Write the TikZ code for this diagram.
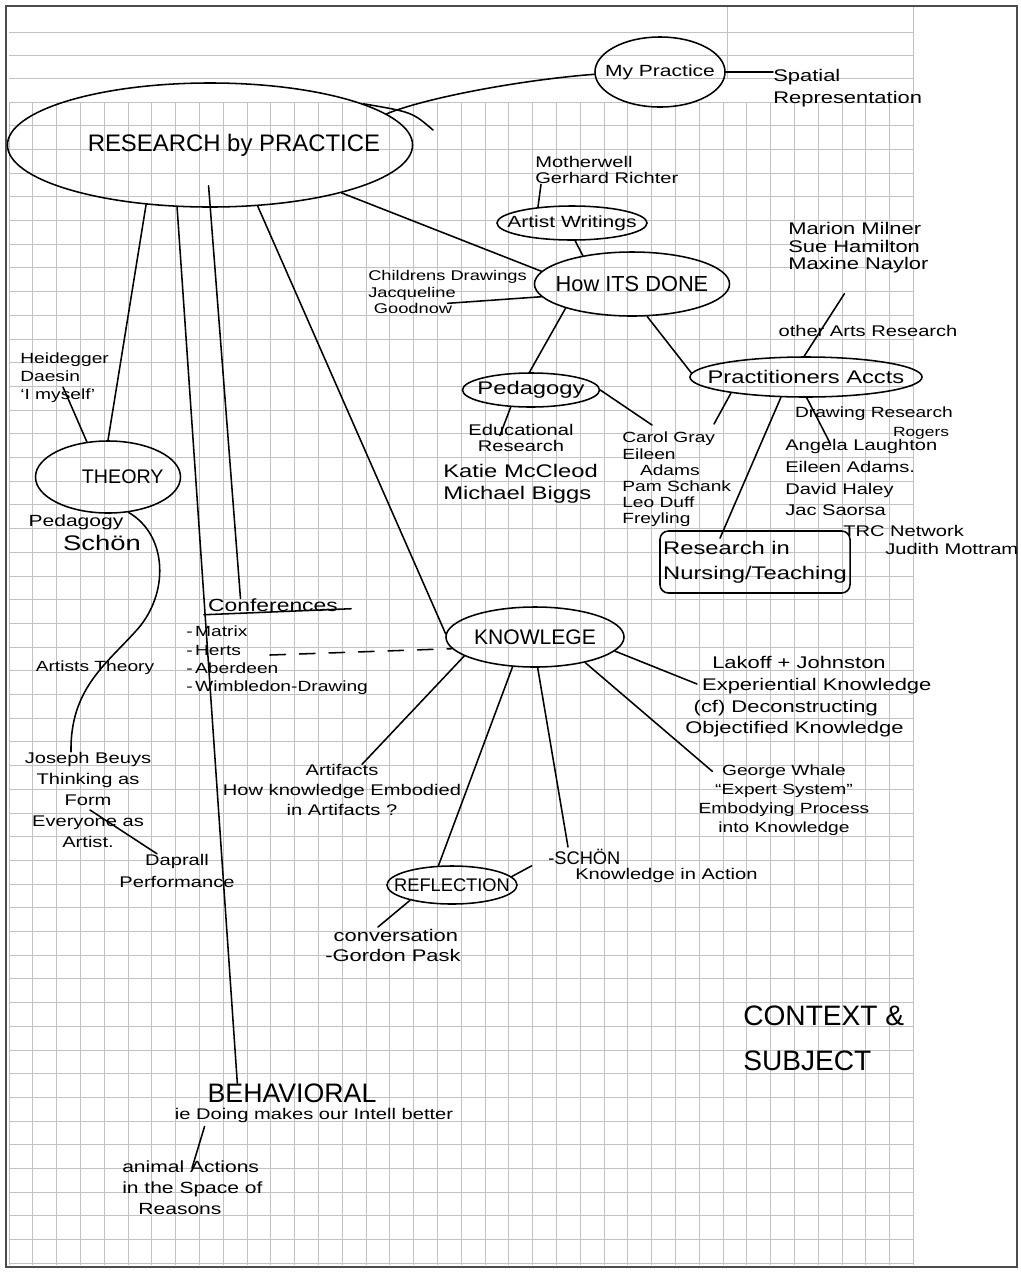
\documentclass[tikz,border=0pt]{standalone}
\usepackage{fontspec}
\setmainfont{Liberation Sans}[FakeStretch=1.3]
\newfontfamily\capsfont{Liberation Sans}
\usetikzlibrary{shapes.geometric, calc, positioning}
\newcommand{\ovaltext}[1]{\makebox[0pt]{#1}}
\newcommand{\fsz}[2]{\fontsize{#1}{#2}\selectfont}

\begin{document}
\begin{tikzpicture}[
    x=0.025cm, y=-0.025cm,
    oval/.style={draw, ellipse, line width=1.1pt, inner sep=0pt},
    note/.style={inner sep=0pt, align=left},
    notec/.style={inner sep=0pt, align=center},
    link/.style={line width=1.1pt, line cap=round},
    gridline/.style={black!24, line width=0.6pt}
]
\useasboundingbox (0,0) rectangle (1021,1272);
\fill[white] (0,0) rectangle (1021,1272);

% squared paper
\foreach \k in {0,...,38} \draw[gridline] ({9+23.8*\k},102) -- ({9+23.8*\k},1265);
\foreach \k in {0,...,49} \draw[gridline] (9,{102+23.7*\k}) -- (913,{102+23.7*\k});
\foreach \yy in {32,55,78} \draw[gridline] (9,\yy) -- (913,\yy);
\draw[gridline] (727,7) -- (727,78);
\draw[gridline] (913,7) -- (913,1265);
\draw[line width=1.3pt, black!70] (6,6) rectangle (1017,1267);

% main ovals
\node[oval, minimum width=10.125cm, minimum height=3.1cm, font={\capsfont\fsz{17}{20}}] (research) at (210,145) {\ovaltext{\hspace*{2em}RESEARCH by PRACTICE}};
\node[oval, minimum width=3.25cm, minimum height=1.75cm, font=\fsz{11.5}{13}] (mypractice) at (660,72) {\ovaltext{My Practice}};
\node[note, anchor=west, font=\fsz{12}{16}] (spatial) at (773,88) {Spatial\\Representation};

% how it's done
\node[note, anchor=west, font=\fsz{11}{12}] (mother) at (535,170) {Motherwell\\Gerhard Richter};
\node[oval, minimum width=3.75cm, minimum height=0.85cm, font=\fsz{11.5}{13}] (writings) at (572,223) {\ovaltext{Artist Writings}};
\node[oval, minimum width=4.875cm, minimum height=1.6cm, font={\capsfont\fsz{15.5}{18}}] (howdone) at (632,284) {\ovaltext{How ITS DONE}};
\node[note, anchor=west, font=\fsz{10}{12}] (children) at (368,292) {Childrens Drawings\\Jacqueline\\\hspace*{0.4em}Goodnow};
\node[note, anchor=west, font=\fsz{12}{12.5}] (marion) at (788,248) {Marion Milner\\Sue Hamilton\\Maxine Naylor};
\node[notec, font=\fsz{11}{13}] (otherarts) at (868,331) {other Arts Research};
\node[oval, minimum width=5.8cm, minimum height=1cm, font=\fsz{13}{15}] (pract) at (806,377) {\ovaltext{Practitioners Accts}};
\node[oval, minimum width=3.425cm, minimum height=0.85cm, font=\fsz{13}{15}] (pedagogy) at (531,390) {\ovaltext{Pedagogy}};
\node[notec, font=\fsz{11}{12}] (educ) at (521,438) {Educational\\Research};
\node[note, anchor=west, font=\fsz{13}{15.5}] (katie) at (443,484) {Katie McCleod\\Michael Biggs};
\node[note, anchor=north west, font=\fsz{10.5}{11.5}] (carol) at (622,432) {Carol Gray\\Eileen\\\hspace*{1.2em}Adams\\Pam Schank\\Leo Duff\\Freyling};
\node[notec, font=\fsz{10.5}{12}] (drawres) at (874,414) {Drawing Research};
\node[notec, font=\fsz{9.5}{11}] (rogers) at (921,433) {Rogers};
\node[note, anchor=north west, font=\fsz{11}{15.5}] (angela) at (785,439) {Angela Laughton\\Eileen Adams.\\David Haley\\Jac Saorsa};
\node[note, anchor=west, font=\fsz{11}{13}] (trc) at (843,531) {TRC Network};
\node[note, anchor=west, font=\fsz{11}{13}] (mottram) at (885,549) {Judith Mottram};
\node[draw, rounded corners=6pt, line width=1.1pt, minimum width=4.75cm, minimum height=1.55cm, align=left, inner sep=2pt, font=\fsz{13}{17.5}] (nursing) at (755,562) {Research in\\Nursing/Teaching};

% theory
\node[oval, minimum width=3.625cm, minimum height=1.8cm, font={\capsfont\fsz{14}{16}}] (theory) at (108,477) {\ovaltext{\hspace*{1.5em}THEORY}};
\node[note, anchor=west, font=\fsz{10.5}{12.8}] (heid) at (20,378) {Heidegger\\Daesin\\`I myself'};
\node[notec, font=\fsz{11.5}{13}] (pedleft) at (76,522) {Pedagogy};
\node[notec, font=\fsz{15}{17}] (schonleft) at (102,543) {Schön};
\node[notec, font=\fsz{10.5}{12}] (arttheory) at (95,668) {Artists Theory};
\node[notec, font=\fsz{11}{15}] (joseph) at (88,800) {Joseph Beuys\\Thinking as\\Form\\Everyone as\\Artist.};
\node[notec, font=\fsz{11}{16}] (daprall) at (177,871) {Daprall\\Performance};

% conferences
\node[notec, font=\fsz{12.5}{14}] (conf) at (273,605) {Conferences};
\node[note, anchor=north west, font=\fsz{10.5}{13}] (conflist) at (186,626) {-\,Matrix\\-\,Herts\\-\,Aberdeen\\-\,Wimbledon-Drawing};

% knowledge
\node[oval, minimum width=4.45cm, minimum height=1.5cm, font={\capsfont\fsz{15}{17}}] (knowledge) at (535,637) {\ovaltext{KNOWLEGE}};
\node[notec, font=\fsz{11}{14}] (artifacts) at (342,790) {Artifacts\\How knowledge Embodied\\in Artifacts ?};
\node[note, anchor=north west, font=\fsz{12}{15.5}] (lakoff) at (685,656) {\hspace*{1.6em}Lakoff + Johnston\\\hspace*{1em}Experiential Knowledge\\\hspace*{0.5em}(cf) Deconstructing\\Objectified Knowledge};
\node[notec, font=\fsz{10.5}{13.5}] (george) at (784,800) {George Whale\\``Expert System''\\Embodying Process\\into Knowledge};
\node[note, anchor=west, font={\capsfont\fsz{13}{15}}] (schon) at (548,857) {-SCHÖN};
\node[note, anchor=west, font=\fsz{11}{13}] (action) at (575,875) {Knowledge in Action};
\node[oval, minimum width=3.25cm, minimum height=0.95cm, font={\capsfont\fsz{13}{15}}] (reflection) at (452,885) {\ovaltext{REFLECTION}};
\node[note, anchor=north west, font=\fsz{12}{14}] (convo) at (325,929) {\hspace*{0.5em}conversation\\-Gordon Pask};

% behavioral
\node[notec, font={\capsfont\fsz{19}{21}}] (behavioral) at (292,1093) {BEHAVIORAL};
\node[notec, font=\fsz{11}{13}] (doing) at (314,1115) {ie Doing makes our Intell better};
\node[note, anchor=north west, font=\fsz{11.5}{15}] (animal) at (122,1160) {animal Actions\\in the Space of\\\hspace*{1em}Reasons};

\node[note, anchor=west, font={\capsfont\fsz{20}{32}}] (context) at (743,1038) {CONTEXT \&\\SUBJECT};

% links
\draw[link] (mypractice.182) .. controls (520,80) and (425,98) .. (research.10);
\draw[link] (research.15) .. controls (412,112) .. (433,130);
\draw[link] (mypractice.east) -- (mypractice.east -| spatial.west);
\draw[link] (research.223) -- (theory.north);
\draw[link] (research.242) -- ($(behavioral.north west)+(30,0)$);
\draw[link] ($(research.center)!0.65!(research.268)$) -- ($(conf.north west)!0.25!(conf.north east)$);
\draw[link] (research.308) -- (knowledge.178);
\draw[link] (research.340) -- (howdone.172);

\draw[link] ($(mother.south west)+(6,0)$) -- (writings.155);
\draw[link] (writings.280) -- (howdone.150);
\draw[link] (howdone.188) -- ($(children.south)+(0,-11)$);
\draw[link] (howdone.200) -- (pedagogy.95);
\draw[link] (howdone.295) -- (pract.178);
\draw[link] ($(marion.south)+(-14,20)$) -- (pract.95);
\draw[link] (pedagogy.east) -- ($(carol.north west)+(30,-7)$);
\draw[link] (pedagogy.220) -- ($(educ.north west)!0.3!(educ.north east)+(0,12)$);
\draw[link] (pract.192) -- ($(carol.north west)+(92,-8)$);
\draw[link] (pract.219) -- ($(nursing.north)+(-35,8)$);
\draw[link] (pract.272) -- ($(angela.north west)+(45,4)$);

\draw[link] ($(heid.west)+(43,9)$) -- (theory.121);
\draw[link] (theory.300) .. controls (168,535) and (170,595) .. (135,632) .. controls (105,665) and (70,690) .. ($(joseph.north)+(-17,0)$);
\draw[link] ($(joseph.center)+(2,10)$) -- ($(daprall.north)+(-20,0)$);

\draw[link] ($(conf.south west)+(-4,3)$) -- ($(conf.south east)+(13,-3)$);
\draw[link, dash pattern=on 11pt off 10pt] ($(conflist.north west)+(84,29)$) -- (knowledge.188);

\draw[link] (knowledge.195) -- ($(artifacts.north)+(20,0)$);
\draw[link] (knowledge.233) -- (reflection.125);
\draw[link] (knowledge.275) -- ($(schon.north west)+(20,-2)$);
\draw[link] (knowledge.333) -- ($(george.north west)+(14,7)$);
\draw[link] (knowledge.350) -- ($(lakoff.north west)+(12,28)$);
\draw[link] (reflection.8) -- ($(reflection.8)!0.55!(schon.west)$);
\draw[link] (reflection.200) -- ($(convo.north west)+(53,-2)$);
\draw[link] ($(doing.south west)+(30,4)$) -- ($(animal.north west)+(70,8)$);
\end{tikzpicture}
\end{document}
